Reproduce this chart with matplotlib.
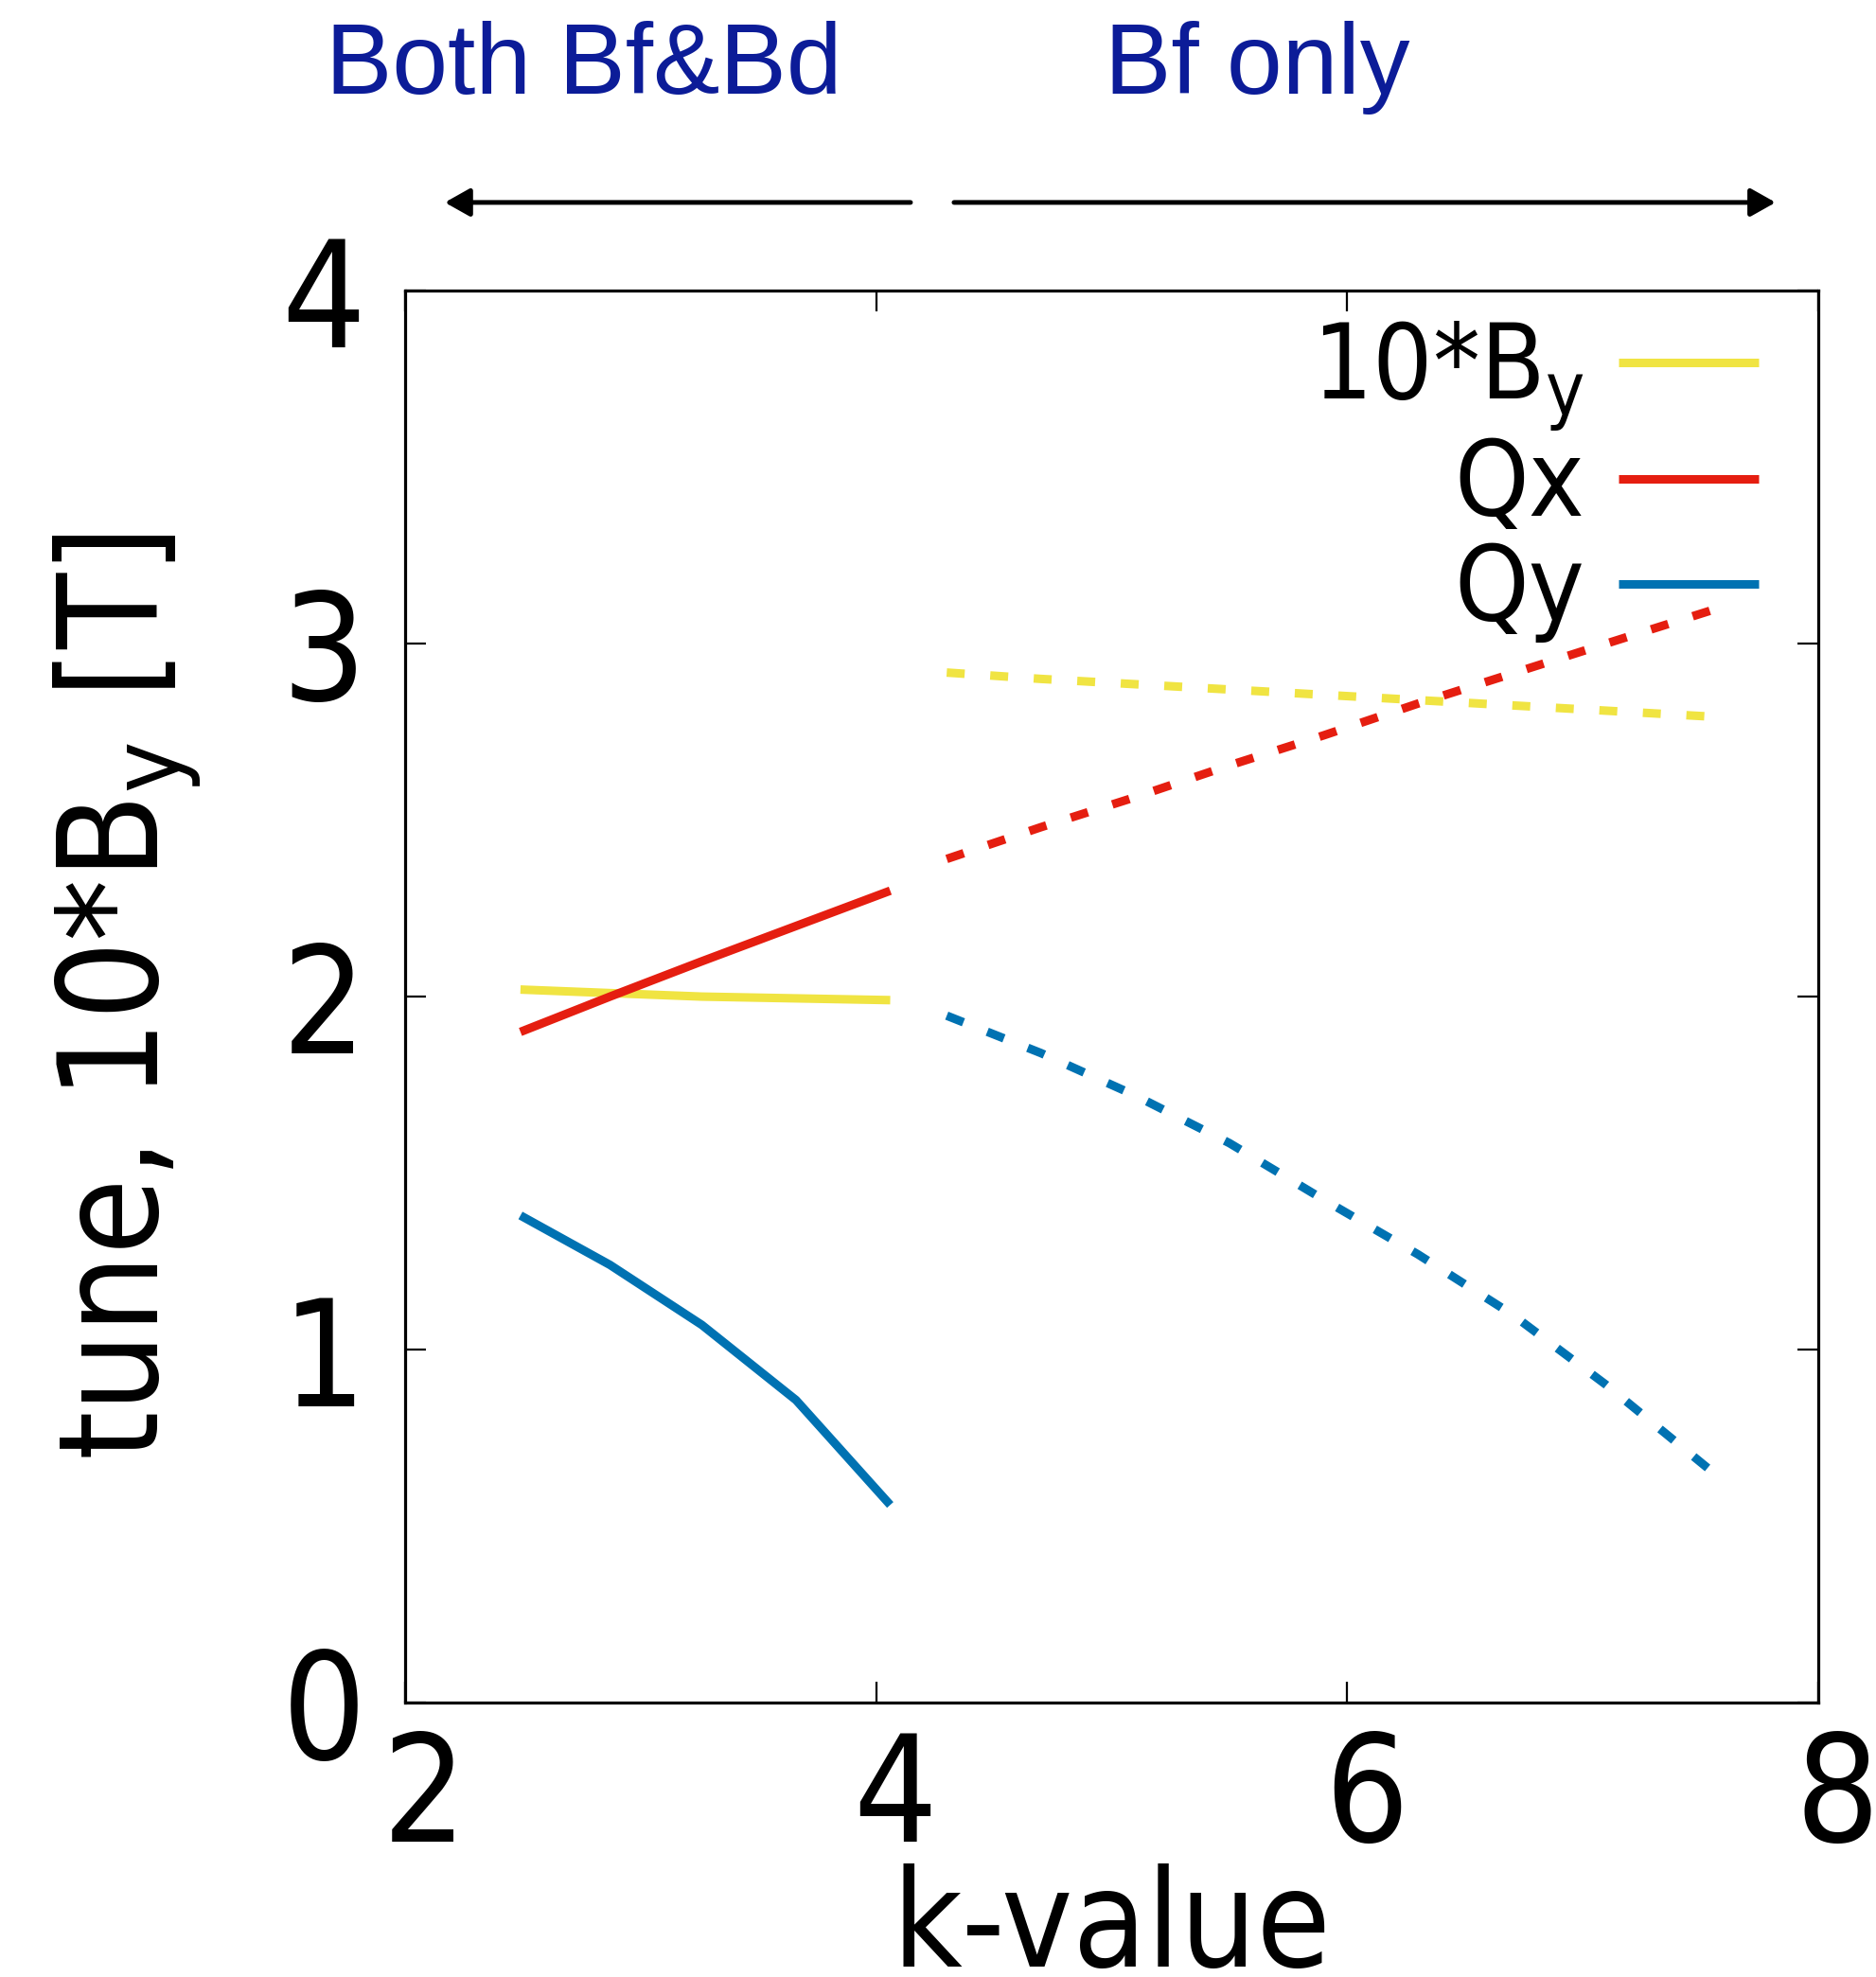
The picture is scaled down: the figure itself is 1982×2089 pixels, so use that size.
import matplotlib
matplotlib.use("Agg")
import matplotlib.pyplot as plt
from matplotlib import font_manager
from matplotlib.transforms import ScaledTranslation

# --- data ---------------------------------------------------------------
# region with both Bf and Bd magnets (solid)
k_both = [2.49, 2.87, 3.26, 3.66, 4.06]
by10_both = [2.02, 2.01, 2.00, 1.995, 1.99]
qx_both = [1.90, 2.00, 2.10, 2.20, 2.30]
qy_both = [1.38, 1.24, 1.07, 0.857, 0.56]

# region with Bf only (dashed)
k_bf = [4.3, 4.7, 5.1, 5.5, 5.9, 6.3, 6.7, 7.1, 7.55]
by10_bf = [2.918, 2.90, 2.885, 2.87, 2.855, 2.84, 2.825, 2.81, 2.793]
qx_bf = [2.39, 2.48, 2.565, 2.655, 2.74, 2.83, 2.915, 3.0, 3.095]
qy_bf = [1.946, 1.84, 1.72, 1.585, 1.425, 1.27, 1.10, 0.90, 0.654]

series_names = ["10*B$_y$", "Qx", "Qy"]
series_colors = ["#f0e442", "#e51e10", "#0072b2"]
region_labels = ["Both Bf&Bd", "Bf only"]

xticks = [2, 4, 6, 8]
yticks = [0, 1, 2, 3, 4]

# --- fonts ----------------------------------------------------------------
# gnuplot used a condensed sans; take a condensed face if one is installed
fam, stretch = "Liberation Sans", "normal"
for f in font_manager.fontManager.ttflist:
    if f.name == "Liberation Sans Narrow":
        fam, stretch = f.name, "normal"
        break
    if f.name == "DejaVu Sans" and str(f.stretch) in ("condensed", "semi-condensed", "600", "500"):
        fam, stretch = "DejaVu Sans", "condensed"
plt.rcParams["font.family"] = [fam, "DejaVu Sans"]
plt.rcParams["font.stretch"] = stretch
plt.rcParams["mathtext.fontset"] = "custom"
plt.rcParams["mathtext.rm"] = fam
plt.rcParams["mathtext.default"] = "regular"

fig = plt.figure(figsize=(19.83, 20.89), dpi=100)
ax = fig.add_axes([0.2158, 0.1388, 0.7529, 0.7142])

lw = 6.5
dash = (0, (2.1, 3.0))
both_sets = [by10_both, qx_both, qy_both]
bf_sets = [by10_bf, qx_bf, qy_bf]
handles = []
for name, col, yb, yf in zip(series_names, series_colors, both_sets, bf_sets):
    h, = ax.plot(k_both, yb, color=col, lw=lw, solid_capstyle="butt", label=name)
    ax.plot(k_bf, yf, color=col, lw=lw, linestyle=dash)
    handles.append(h)

ax.set_xlim(2, 8)
ax.set_ylim(0, 4)
ax.set_xticks(xticks)
ax.set_yticks(yticks)
ax.tick_params(direction="in", length=16, width=1.6, top=True, right=True,
               labelsize=112)
ax.tick_params(axis="x", pad=20)
ax.tick_params(axis="y", pad=30)
for sp in ax.spines.values():
    sp.set_linewidth(2.3)

# gnuplot puts the x tick labels slightly to the right
shift = ScaledTranslation(0.20, 0, fig.dpi_scale_trans)
for lab in ax.get_xticklabels():
    lab.set_transform(lab.get_transform() + shift)

ax.set_xlabel("k-value", fontsize=102)
ax.xaxis.set_label_coords(0.5, -0.114)
ax.set_ylabel("tune, 10*B$_y$ [T]", fontsize=105)
ax.yaxis.set_label_coords(-0.143, 0.5)

leg = ax.legend(handles=handles, loc="upper right", bbox_to_anchor=(0.958, 0.9795),
                frameon=False, markerfirst=False, fontsize=80,
                handlelength=1.33, handletextpad=0.33, labelspacing=0.03,
                borderaxespad=0, borderpad=0)

# region annotations above the plot
txt_col = "#0c1c98"
fig.text(0.311, 0.9526, region_labels[0], color=txt_col, fontsize=76,
         family="Liberation Sans", stretch="normal", ha="center", va="baseline")
fig.text(0.670, 0.9526, region_labels[1], color=txt_col, fontsize=76,
         family="Liberation Sans", stretch="normal", ha="center", va="baseline")
arrow = dict(arrowstyle="-|>,head_length=1.6,head_width=0.9", color="black",
             lw=3.6, mutation_scale=10, shrinkA=0, shrinkB=0)
ax.annotate("", xy=(0.237, 0.8976), xytext=(0.4851, 0.8976),
            xycoords="figure fraction", textcoords="figure fraction",
            arrowprops=arrow, annotation_clip=False)
ax.annotate("", xy=(0.946, 0.8976), xytext=(0.5083, 0.8976),
            xycoords="figure fraction", textcoords="figure fraction",
            arrowprops=arrow, annotation_clip=False)

fig.savefig("out.png", dpi=100)
